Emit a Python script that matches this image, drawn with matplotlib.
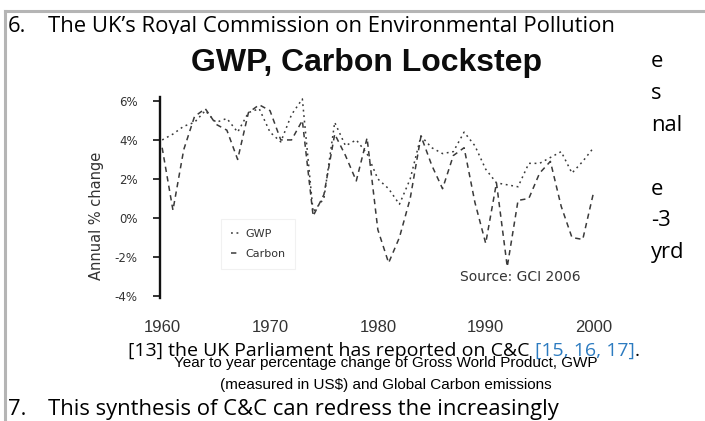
import matplotlib
matplotlib.use("Agg")
import matplotlib.pyplot as plt
from matplotlib.lines import Line2D
from matplotlib.patches import Rectangle

# ---- series (annual % change) ----
years = list(range(1960, 2001))
gwp = [4.0, 4.3, 4.7, 4.9, 5.5, 4.9, 5.1, 4.4, 5.4, 5.6,
       4.4, 3.9, 5.3, 6.1, 0.3, 1.0, 4.9, 3.7, 4.0, 3.3,
       2.0, 1.5, 0.7, 2.0, 4.2, 3.6, 3.3, 3.4, 4.4, 3.7,
       2.5, 1.8, 1.7, 1.6, 2.8, 2.8, 3.1, 3.4, 2.3, 2.9,
       3.6]
carbon = [3.6, 0.4, 3.5, 5.2, 5.6, 4.8, 4.5, 3.0, 5.4, 5.8,
          5.5, 4.0, 4.0, 5.0, 0.1, 1.2, 4.3, 3.2, 1.9, 4.1,
          -0.6, -2.3, -1.0, 1.0, 4.2, 2.7, 1.5, 3.2, 3.6, 0.8,
          -1.3, 1.8, -2.5, 0.9, 1.0, 2.3, 2.9, 0.6, -1.0, -1.1,
          1.3]
series_names = ["GWP", "Carbon"]
ytick_values = [6, 4, 2, 0, -2, -4]
ytick_labels = ["6%", "4%", "2%", "0%", "-2%", "-4%"]
xtick_values = [1960, 1970, 1980, 1990, 2000]
xtick_labels = ["1960", "1970", "1980", "1990", "2000"]

W, H = 705, 421
fig = plt.figure(figsize=(W / 100, H / 100), dpi=100)
fig.patch.set_facecolor("white")


def fx(px):
    return px / W


def fy(py):
    return 1 - py / H


DOC_FONT = ["Open Sans", "DejaVu Sans"]
NARROW = ["Liberation Sans Narrow", "Liberation Sans", "DejaVu Sans"]
CHART_FONT = ["DejaVu Sans"]

# ---- page frame ----
fig.add_artist(Line2D([fx(5), fx(705)], [fy(11), fy(11)], color="#b5b5b5", lw=2.2,
                      transform=fig.transFigure, zorder=2))
fig.add_artist(Line2D([fx(5), fx(5)], [fy(11), fy(421)], color="#b5b5b5", lw=2.2,
                      transform=fig.transFigure, zorder=2))

# ---- document body text ----
doc_size = 15.8
fig.text(fx(8), fy(32), "6.", fontsize=doc_size, family=DOC_FONT, va="baseline", zorder=3)
fig.text(fx(48), fy(32), "The UK\u2019s Royal Commission on Environmental Pollution",
         fontsize=doc_size, family=DOC_FONT, va="baseline", zorder=3)
right_bits = [(67, "e"), (99, "s"), (131, "nal"), (195, "e"), (226, "-3"), (258, "yrd")]
for base, txt in right_bits:
    fig.text(fx(651), fy(base), txt, fontsize=doc_size, family=DOC_FONT,
             va="baseline", zorder=3)

ref_size = 14
t13 = fig.text(fx(128), fy(356), "[13] the UK Parliament has reported on C&C ",
               fontsize=ref_size, family=DOC_FONT, va="baseline", zorder=3)
fig.canvas.draw()
ext = t13.get_window_extent()
t_refs = fig.text(ext.x1 / W, fy(356), "[15, 16, 17]", fontsize=ref_size, family=DOC_FONT,
                  va="baseline", color="#2c7bc0", zorder=3)
ext2 = t_refs.get_window_extent()
fig.text(ext2.x1 / W, fy(356), ".", fontsize=ref_size, family=DOC_FONT,
         va="baseline", zorder=3)

fig.text(fx(8), fy(415), "7.", fontsize=doc_size, family=DOC_FONT, va="baseline", zorder=3)
fig.text(fx(48), fy(415), "This synthesis of C&C can redress the increasingly",
         fontsize=doc_size, family=DOC_FONT, va="baseline", zorder=3)

# ---- figure caption ----
fig.text(fx(386), fy(367), "Year to year percentage change of Gross World Product, GWP",
         fontsize=11, family=NARROW, ha="center", va="baseline", zorder=6)
fig.text(fx(386), fy(389), "(measured in US\\$) and Global Carbon emissions",
         fontsize=11, family=NARROW, ha="center", va="baseline", zorder=6)

# ---- embedded chart panel ----
fig.add_artist(Rectangle((fx(60), fy(339)), fx(648) - fx(60), fy(34) - fy(339),
                         transform=fig.transFigure, facecolor="white",
                         edgecolor="none", zorder=4))

fig.text(fx(367), fy(71), "GWP, Carbon Lockstep", fontsize=23, fontweight="bold",
         family=["Liberation Sans", "DejaVu Sans"], ha="center", va="baseline",
         color="#0d0d0d", zorder=6)

ax = fig.add_axes([fx(160), fy(298), fx(600) - fx(160), fy(97) - fy(298)])
ax.set_zorder(5)
ax.patch.set_alpha(0)

ink = "#3a3a3a"
ax.plot(years, gwp, color=ink, lw=1.1, linestyle=(0, (1.2, 2.4)), label=series_names[0])
ax.plot(years, carbon, color=ink, lw=1.1, linestyle=(0, (3.5, 2.8)), label=series_names[1])

ax.set_xlim(1959.8, 2000.6)
ax.set_ylim(-4.1, 6.2)
for side in ("top", "right", "bottom"):
    ax.spines[side].set_visible(False)
ax.spines["left"].set_color("#111111")
ax.spines["left"].set_linewidth(1.7)

ax.set_yticks(ytick_values)
ax.set_yticklabels(ytick_labels, fontsize=8.5, family=CHART_FONT, color="#333333")
ax.tick_params(axis="y", length=5, width=1.2, color="#111111", pad=11)
ax.set_xticks(xtick_values)
ax.set_xticklabels(xtick_labels, fontsize=12, family=NARROW, color="#333333")
ax.tick_params(axis="x", length=0, pad=16)

fig.text(fx(97), fy(216), "Annual % change", rotation=90, fontsize=10.5,
         family=CHART_FONT, ha="center", va="center", color="#333333", zorder=6)

leg = ax.legend(loc="center", bbox_to_anchor=((258 - 160) / 440, (298 - 244) / 201),
                fontsize=8, handlelength=0.8, handletextpad=0.5, frameon=True,
                fancybox=False, borderpad=0.9, labelspacing=0.9)
leg.get_frame().set_edgecolor("#eeeeee")
leg.get_frame().set_linewidth(0.8)
for t in leg.get_texts():
    t.set_color("#333333")

ax.text((520 - 160) / 440, (298 - 277) / 201, "Source: GCI 2006", transform=ax.transAxes,
        fontsize=10, family=CHART_FONT, ha="center", va="center", color="#333333")

fig.savefig("out.png", dpi=100, facecolor="white")
